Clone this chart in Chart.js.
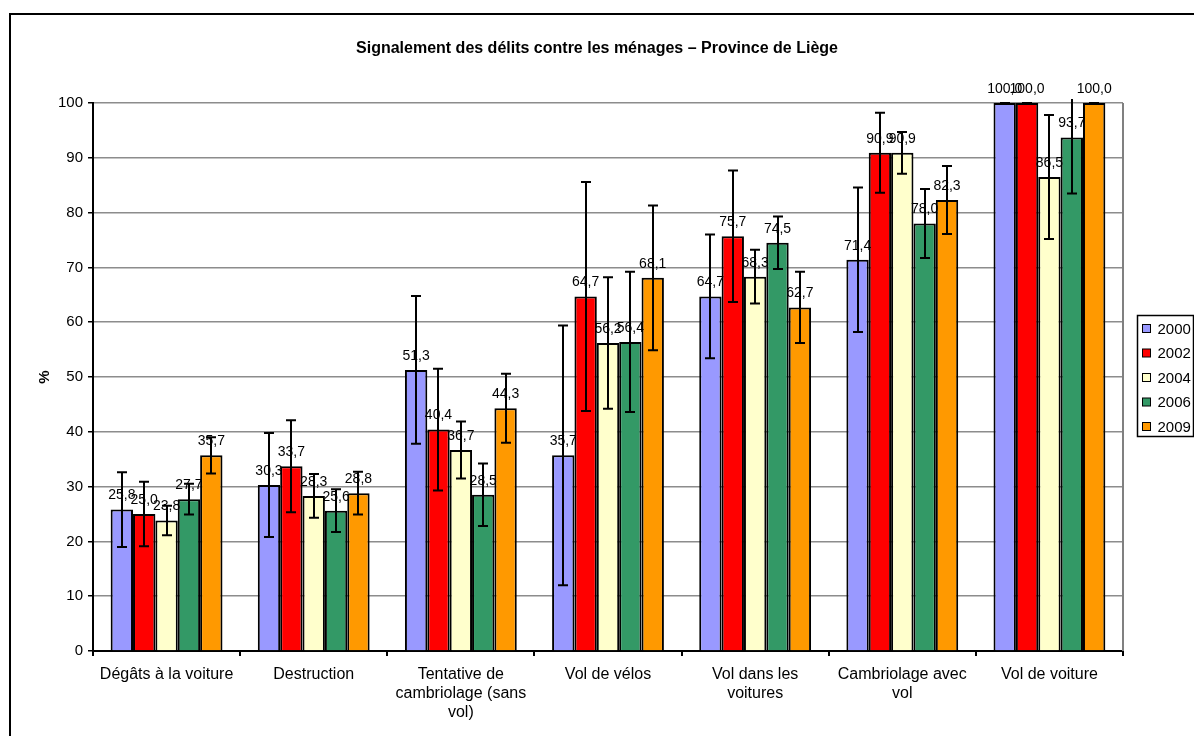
<!DOCTYPE html>
<html>
<head>
<meta charset="utf-8">
<script src="https://cdn.jsdelivr.net/npm/chart.js@4/dist/chart.umd.min.js"></script>
<style>
  html, body { margin: 0; padding: 0; background: #ffffff; }
  #c { display: block; }
</style>
</head>
<body>
<canvas id="c" width="1194" height="736"></canvas>
<script>
// ---------------- DATA ----------------
const chartTitle = 'Signalement des délits contre les ménages – Province de Liège';
const yAxisTitle = '%';
const categories = [
  'Dégâts à la voiture',
  'Destruction',
  ['Tentative de', 'cambriolage (sans', 'vol)'],
  'Vol de vélos',
  ['Vol dans les', 'voitures'],
  ['Cambriolage avec', 'vol'],
  'Vol de voiture'
];
const seriesNames = ['2000', '2002', '2004', '2006', '2009'];
const values2000 = [25.8, 30.3, 51.3, 35.7, 64.7, 71.4, 100.0];
const values2002 = [25.0, 33.7, 40.4, 64.7, 75.7, 90.9, 100.0];
const values2004 = [23.8, 28.3, 36.7, 56.2, 68.3, 90.9, 86.5];
const values2006 = [27.7, 25.6, 28.5, 56.4, 74.5, 78.0, 93.7];
const values2009 = [35.7, 28.8, 44.3, 68.1, 62.7, 82.3, 100.0];
// error margins (±)
const err2000 = [6.8, 9.5, 13.5, 23.7, 11.3, 13.2, 0];
const err2002 = [5.9, 8.4, 11.1, 20.9, 12.0, 7.3, 0];
const err2004 = [2.7, 4.0, 5.2, 12.0, 4.9, 3.8, 11.3];
const err2006 = [2.8, 3.9, 5.7, 12.8, 4.8, 6.3, 10.2];
const err2009 = [3.3, 3.9, 6.3, 13.2, 6.5, 6.2, 0];
const yTickMin = 0, yTickMax = 100, yTickStep = 10;

// ---------------- STYLE ----------------
const seriesColors = ['#9999FF', '#FF0000', '#FFFFCC', '#339966', '#FF9900'];
const FONT = "'Liberation Sans', Arial, Helvetica, sans-serif";
Chart.defaults.font.family = FONT;
Chart.defaults.color = '#000';

const allValues = [values2000, values2002, values2004, values2006, values2009];
const allErrors = [err2000, err2002, err2004, err2006, err2009];

const datasets = seriesNames.map((name, i) => ({
  label: name,
  data: allValues[i],
  errors: allErrors[i],
  backgroundColor: seriesColors[i],
  borderColor: '#000',
  borderWidth: 2,
  barPercentage: 1.0,
  categoryPercentage: 0.76
}));

const decorPlugin = {
  id: 'decor',
  afterDatasetsDraw(chart) {
    const ctx = chart.ctx;
    const ys = chart.scales.y;
    const area = chart.chartArea;
    // value labels
    ctx.save();
    ctx.font = '14px ' + FONT;
    ctx.fillStyle = '#000';
    ctx.textAlign = 'center';
    ctx.textBaseline = 'middle';
    chart.data.datasets.forEach((ds, di) => {
      const meta = chart.getDatasetMeta(di);
      meta.data.forEach((el, j) => {
        const v = ds.data[j];
        ctx.fillText(v.toFixed(1).replace('.', ','), el.x, el.y - 14);
      });
    });
    ctx.restore();
    // error bars
    ctx.save();
    ctx.strokeStyle = '#000';
    ctx.lineWidth = 2;
    const cap = 5;
    chart.data.datasets.forEach((ds, di) => {
      const meta = chart.getDatasetMeta(di);
      meta.data.forEach((el, j) => {
        const v = ds.data[j], e = ds.errors[j];
        let yTop = ys.getPixelForValue(v + e);
        const yBot = ys.getPixelForValue(v - e);
        const clipped = yTop < area.top - 4;
        if (clipped) yTop = area.top - 4;
        const x = Math.round(el.x);
        ctx.beginPath();
        ctx.moveTo(x, yTop);
        ctx.lineTo(x, yBot);
        if (!clipped) {
          ctx.moveTo(x - cap, yTop);
          ctx.lineTo(x + cap, yTop);
        }
        ctx.moveTo(x - cap, yBot);
        ctx.lineTo(x + cap, yBot);
        ctx.stroke();
      });
    });
    ctx.restore();
  },
  afterDraw(chart) {
    const ctx = chart.ctx;
    const area = chart.chartArea;
    ctx.save();
    // plot area right border (grey)
    ctx.strokeStyle = '#808080';
    ctx.lineWidth = 2;
    ctx.beginPath();
    ctx.moveTo(area.right, area.top);
    ctx.lineTo(area.right, area.bottom);
    ctx.stroke();
    // outer chart frame
    ctx.strokeStyle = '#000';
    ctx.lineWidth = 2;
    ctx.strokeRect(10, 14, chart.width + 20, chart.height + 20);
    // legend
    const lx = 1137.5, ly = 315.5, lw = 56, lh = 121;
    ctx.lineWidth = 1.5;
    ctx.strokeRect(lx, ly, lw, lh);
    ctx.font = '15px ' + FONT;
    ctx.textAlign = 'left';
    ctx.textBaseline = 'middle';
    chart.data.datasets.forEach((ds, i) => {
      const cy = ly + 13 + i * 24.5;
      ctx.fillStyle = ds.backgroundColor;
      ctx.fillRect(lx + 5, cy - 4, 8, 8);
      ctx.strokeStyle = '#000';
      ctx.lineWidth = 1;
      ctx.strokeRect(lx + 5, cy - 4, 8, 8);
      ctx.fillStyle = '#000';
      ctx.fillText(ds.label, lx + 20, cy + 1);
    });
    ctx.restore();
  }
};

new Chart(document.getElementById('c'), {
  type: 'bar',
  data: { labels: categories, datasets: datasets },
  options: {
    responsive: false,
    animation: false,
    devicePixelRatio: 1,
    layout: { padding: { left: 0, right: 0, top: 0, bottom: 0 } },
    plugins: {
      legend: { display: false },
      tooltip: { enabled: false },
      title: {
        display: true,
        text: chartTitle,
        color: '#000',
        font: { size: 16, weight: 'bold', family: FONT },
        padding: { top: 38.5, bottom: 45.3 }
      }
    },
    scales: {
      x: {
        offset: true,
        grid: { display: true, drawOnChartArea: false, drawTicks: true, tickLength: 5, tickColor: '#000', offset: true, lineWidth: 2 },
        border: { display: true, color: '#000', width: 2 },
        ticks: { color: '#000', font: { size: 16 }, padding: 9, maxRotation: 0, minRotation: 0, autoSkip: false },
        afterFit(s) { s.height = 85; }
      },
      y: {
        min: yTickMin, max: yTickMax,
        ticks: { stepSize: yTickStep, color: '#000', font: { size: 15 }, padding: 5 },
        grid: { color: '#8c8c8c', lineWidth: 1.5, tickColor: '#000', tickLength: 5, drawTicks: true },
        border: { display: true, color: '#000', width: 2 },
        title: { display: true, text: yAxisTitle, color: '#000', font: { size: 15, weight: 'bold' }, padding: { top: 36, bottom: 0 } },
        afterFit(s) { s.width = 93; }
      },
      yRight: {
        position: 'right',
        display: true,
        min: 0, max: 1,
        grid: { display: false, drawTicks: false },
        border: { display: false },
        ticks: { display: false },
        afterFit(s) { s.width = 71; }
      }
    }
  },
  plugins: [decorPlugin]
});
</script>
</body>
</html>
